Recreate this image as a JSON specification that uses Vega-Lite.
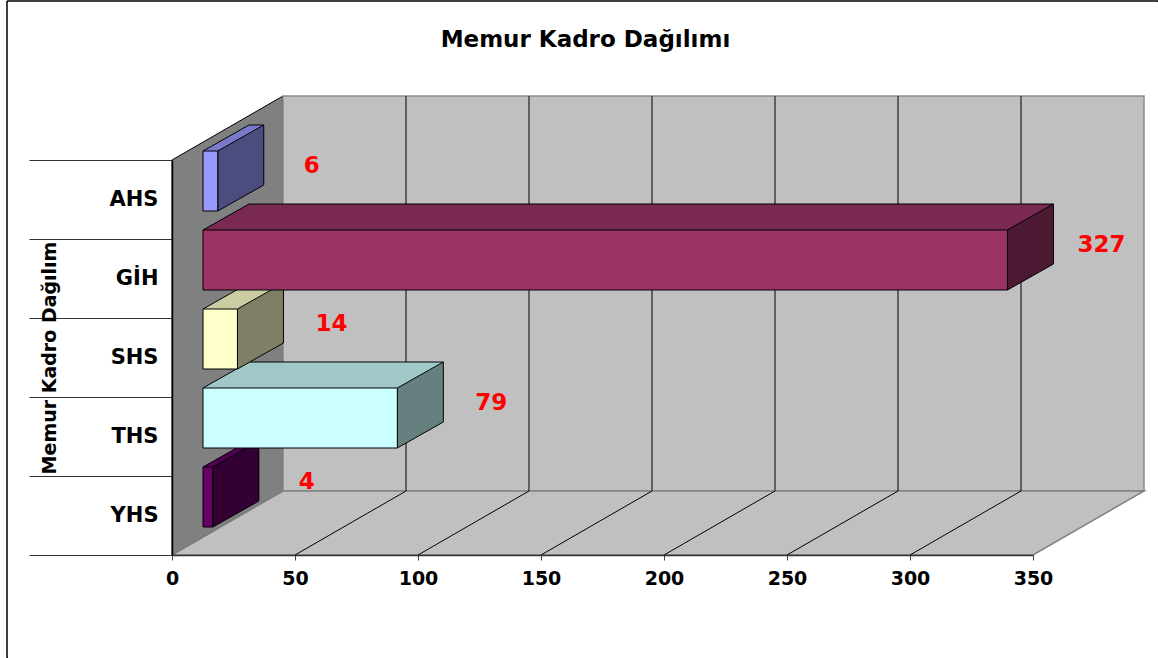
{
  "$schema": "https://vega.github.io/schema/vega-lite/v6.json",
  "width": 1151,
  "height": 657,
  "autosize": {"type": "none"},
  "padding": {"left": 7, "top": 1, "right": 0, "bottom": 0},
  "background": "white",
  "title": {"text": "Memur Kadro Dağılımı", "font": "DejaVu Sans", "fontSize": 23, "fontWeight": "bold", "color": "#000000", "anchor": "middle", "baseline": "alphabetic", "offset": -80, "dx": 3},
  "config": {"view": {"stroke": "#000000", "strokeWidth": 1.5, "strokeDash": [1152, 1806, 658, 0]}, "font": "DejaVu Sans"},
  "data": {"values": [
    {"kadro": "AHS", "sayi": 6},
    {"kadro": "GİH", "sayi": 327},
    {"kadro": "SHS", "sayi": 14},
    {"kadro": "THS", "sayi": 79},
    {"kadro": "YHS", "sayi": 4}
  ]},
  "layer": [
    {
      "data": {"values": [{}]},
      "mark": {"type": "point", "shape": "M0,-0.3555L0.111,-0.4195L0.111,-0.0245L0,0.0395Z", "size": 4000000, "filled": true, "fill": "#808080", "stroke": "#000000", "strokeWidth": 1, "opacity": 1},
      "encoding": {
        "x": {"datum": 0, "type": "quantitative",
          "scale": {"type": "linear", "domain": [0, 350], "range": [165, 1026], "nice": false, "zero": false},
          "axis": {"title": null, "values": [0, 50, 100, 150, 200, 250, 300, 350], "offset": -103, "grid": false, "zindex": 1,
            "domainColor": "#333333", "domainWidth": 1.5, "tickColor": "#444444", "tickSize": 5, "tickWidth": 1,
            "labelFont": "DejaVu Sans", "labelFontWeight": "bold", "labelFontSize": 19, "labelColor": "#000000", "labelPadding": 9, "labelFlush": false}},
        "y": {"datum": "YHS", "type": "nominal",
          "scale": {"type": "band", "domain": ["AHS", "GİH", "SHS", "THS", "YHS"], "range": [159, 554], "paddingInner": 0, "paddingOuter": 0},
          "axis": {"title": "Memur Kadro Dağılım", "offset": -165, "zindex": 1, "grid": false, "tickBand": "extent", "tickSize": 143, "tickColor": "#333333", "tickWidth": 1,
            "domainColor": "#000000", "domainWidth": 1.5,
            "labelFont": "DejaVu Sans", "labelFontWeight": "bold", "labelFontSize": 21, "labelColor": "#000000", "labelPadding": -129, "labelAlign": "right", "labelBaseline": "middle",
            "titleFont": "DejaVu Sans", "titleFontWeight": "bold", "titleFontSize": 19, "titleColor": "#000000", "titleAngle": 270, "titleX": -123, "titleY": 356.5, "titleBaseline": "middle", "titleAlign": "center"}}
      }
    },
    {
      "data": {"values": [{}]},
      "mark": {"type": "point", "shape": "M0.111,-0.4195L0.972,-0.4195L0.972,-0.0245L0.111,-0.0245Z", "size": 4000000, "filled": true, "fill": "#C0C0C0", "stroke": "#8C8C8C", "strokeWidth": 1.5, "opacity": 1},
      "encoding": {
        "x": {"datum": 0, "type": "quantitative"},
        "y": {"datum": "YHS", "type": "nominal"}
      }
    },
    {
      "data": {"values": [{}]},
      "mark": {"type": "point", "shape": "M0,0.0395L0.861,0.0395L0.972,-0.0245L0.111,-0.0245Z", "size": 4000000, "filled": true, "fill": "#C0C0C0", "stroke": "#808080", "strokeWidth": 1.5, "opacity": 1},
      "encoding": {
        "x": {"datum": 0, "type": "quantitative"},
        "y": {"datum": "YHS", "type": "nominal"}
      }
    },
    {
      "data": {"values": [{"t": 50}, {"t": 100}, {"t": 150}, {"t": 200}, {"t": 250}, {"t": 300}]},
      "mark": {"type": "point", "shape": "M0.111,-0.4195L0.111,-0.0245", "size": 4000000, "filled": false, "stroke": "#404040", "strokeWidth": 1.5, "opacity": 1},
      "encoding": {
        "x": {"field": "t", "type": "quantitative"},
        "y": {"datum": "YHS", "type": "nominal"}
      }
    },
    {
      "data": {"values": [{"t": 50}, {"t": 100}, {"t": 150}, {"t": 200}, {"t": 250}, {"t": 300}]},
      "mark": {"type": "point", "shape": "M0,0.0395L0.111,-0.0245", "size": 4000000, "filled": false, "stroke": "#000000", "strokeWidth": 1, "opacity": 1},
      "encoding": {
        "x": {"field": "t", "type": "quantitative"},
        "y": {"datum": "YHS", "type": "nominal"}
      }
    },
    {
      "mark": {"type": "bar", "height": 60, "xOffset": 77, "x2Offset": 77, "yOffset": -44.5, "y2Offset": -44.5, "strokeWidth": 0, "opacity": 1},
      "encoding": {
        "x": {"field": "sayi", "type": "quantitative"},
        "y": {"field": "kadro", "type": "nominal"},
        "color": {"field": "kadro", "type": "nominal", "legend": null,
          "scale": {"domain": ["AHS", "GİH", "SHS", "THS", "YHS"], "range": ["#7A7ACC", "#7A2952", "#CCCCA3", "#A0C8C8", "#520052"]}}
      }
    },
    {
      "mark": {"type": "point", "shape": "M0.31,-0.485L0.77,-0.745L0.77,-0.485Z", "size": 40000, "filled": true, "strokeWidth": 0, "opacity": 1},
      "encoding": {
        "x": {"datum": 0, "type": "quantitative"},
        "y": {"field": "kadro", "type": "nominal"},
        "color": {"field": "kadro", "type": "nominal", "legend": null}
      }
    },
    {
      "mark": {"type": "bar", "height": 1, "xOffset": 77, "x2Offset": 77, "yOffset": -74.5, "y2Offset": -74.5, "fill": "#000000", "strokeWidth": 0, "opacity": 1},
      "encoding": {
        "x": {"field": "sayi", "type": "quantitative"},
        "y": {"field": "kadro", "type": "nominal"}
      }
    },
    {
      "mark": {"type": "point", "shape": "M0.31,-0.485L0.77,-0.745", "size": 40000, "filled": false, "stroke": "#000000", "strokeWidth": 1, "opacity": 1},
      "encoding": {
        "x": {"datum": 0, "type": "quantitative"},
        "y": {"field": "kadro", "type": "nominal"}
      }
    },
    {
      "mark": {"type": "point", "shape": "M0.31,-0.485L0.77,-0.745L0.77,-0.145L0.31,0.115Z", "size": 40000, "filled": true, "strokeWidth": 0, "opacity": 1},
      "encoding": {
        "x": {"field": "sayi", "type": "quantitative"},
        "y": {"field": "kadro", "type": "nominal"},
        "fill": {"field": "kadro", "type": "nominal", "legend": null,
          "scale": {"domain": ["AHS", "GİH", "SHS", "THS", "YHS"], "range": ["#9999FF", "#993366", "#FFFFCC", "#CCFFFF", "#660066"]}}
      }
    },
    {
      "mark": {"type": "point", "shape": "M0.31,-0.485L0.77,-0.745L0.77,-0.145L0.31,0.115Z", "size": 40000, "filled": true, "fill": "#000000", "fillOpacity": 0.5, "stroke": "#000000", "strokeWidth": 1, "strokeOpacity": 1, "opacity": 1},
      "encoding": {
        "x": {"field": "sayi", "type": "quantitative"},
        "y": {"field": "kadro", "type": "nominal"}
      }
    },
    {
      "mark": {"type": "bar", "height": 60, "xOffset": 31, "x2Offset": 31, "yOffset": -18.5, "y2Offset": -18.5, "stroke": "#000000", "strokeWidth": 1, "opacity": 1},
      "encoding": {
        "x": {"field": "sayi", "type": "quantitative"},
        "y": {"field": "kadro", "type": "nominal"},
        "fill": {"field": "kadro", "type": "nominal", "legend": null}
      }
    },
    {
      "mark": {"type": "text", "xOffset": 125, "yOffset": -34, "align": "center", "baseline": "middle", "font": "DejaVu Sans", "fontWeight": "bold", "fontSize": 23, "fill": "#FF0000"},
      "encoding": {
        "x": {"field": "sayi", "type": "quantitative"},
        "y": {"field": "kadro", "type": "nominal"},
        "text": {"field": "sayi", "type": "quantitative"}
      }
    }
  ]
}
